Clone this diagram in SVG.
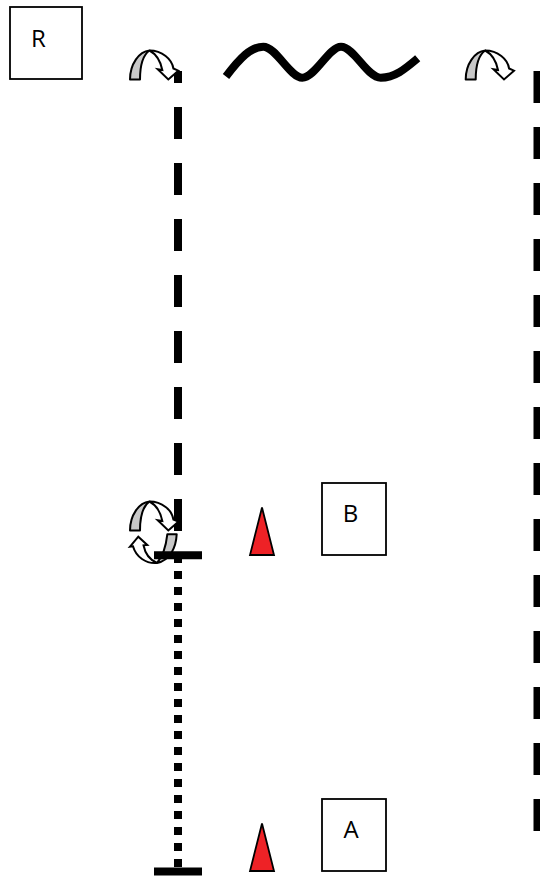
<svg xmlns="http://www.w3.org/2000/svg" width="540" height="877" viewBox="0 0 540 877">
<style>
.box{fill:#fff;stroke:#000;stroke-width:1.8}
.lbl{font-family:"Open Sans","Liberation Sans",sans-serif;font-size:24px;fill:#000;text-anchor:middle}
.cone{fill:#ee2226;stroke:#000;stroke-width:1.8;stroke-linejoin:miter}
.dash{fill:none;stroke:#000;stroke-width:8}
.bar{fill:none;stroke:#000;stroke-width:8}
.ag{fill:#c8c8c8;stroke:#000;stroke-width:2;stroke-linejoin:round}
.aw{fill:#fff;stroke:#000;stroke-width:2;stroke-linejoin:miter}
</style>
<defs>
<g id="curl">
<path class="aw" d="M39.5,10.5C52,10.5 62,19 63.4,28.5L68.3,30.7L58.3,39.5L47.7,29.3L52.3,30C50.5,21 46,14 39.5,10.5Z"/>
<path class="ag" d="M20,39.5C20,24 29,11.500 39.500,10.500C33,15 30,27 30,39.500Z"/>
</g>
</defs>
<g id="connectors">
<path class="dash" d="M178,71V531" stroke-dasharray="32 24" stroke-dashoffset="20"/>
<path class="dash" d="M537.500,71V831" stroke-dasharray="32 24"/>
<path class="dash" d="M178,555V867" stroke-dasharray="8 8"/>
<path id="wave" fill="none" stroke="#000" stroke-width="8" d="M226,76.500C240,58 251,46.700 263.300,46.700C276,46.700 290,77.700 302.300,77.700C315,77.700 329,46.700 341,46.700C354,46.700 367,77.700 380.700,77.700C395,77.700 405,69 417.700,58.300"/>
</g>
<g id="curl-top-left"><use href="#curl" transform="translate(110,40)"/></g>
<g id="curl-top-right"><use href="#curl" transform="translate(445.700,40)"/></g>
<g id="curl-mid-down"><use href="#curl" transform="translate(110,491)"/></g>
<g id="curl-mid-up">
<path class="aw" d="M157,563C146,564 136,557 133,546.300L130,546.700L138.300,536.700L147.300,545L143.500,545.300C145,553 150,560 157,563Z"/>
<path class="ag" d="M167.300,534.300L176.700,534.300C176,548 170,560 157,563C163,556 166,546 167.300,534.300Z"/>
</g>
<g id="bars">
<path class="bar" d="M154,555.300H202"/>
<path class="bar" d="M154,871.500H202"/>
</g>
<g id="node-r"><rect class="box" x="10" y="7" width="72" height="72"/><text class="lbl" x="38.500" y="46.500">R</text></g>
<g id="node-b"><rect class="box" x="322" y="483" width="64" height="72"/><text class="lbl" x="350.500" y="521.500">B</text></g>
<g id="node-a"><rect class="box" x="322" y="799" width="64" height="72"/><text class="lbl" x="351" y="837.500">A</text></g>
<g id="cone-b"><path class="cone" d="M262,507.500L274,555H250Z"/></g>
<g id="cone-a"><path class="cone" d="M262,823.500L274,871H250Z"/></g>
</svg>
